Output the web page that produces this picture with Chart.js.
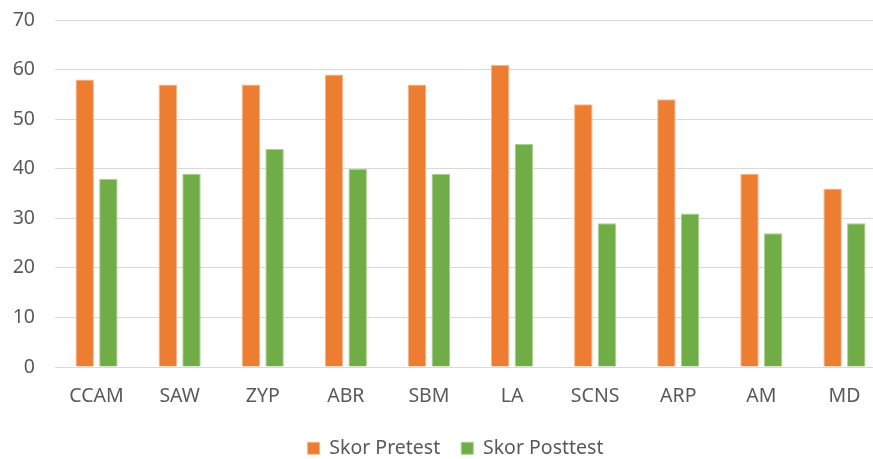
<!DOCTYPE html>
<html>
<head>
<meta charset="utf-8">
<script src="https://cdn.jsdelivr.net/npm/chart.js@4/dist/chart.umd.min.js"></script>
<style>
  html, body { margin: 0; padding: 0; background: #ffffff; overflow: hidden; }
  #wrap { width: 873px; height: 459px; }
</style>
</head>
<body>
<div id="wrap"><canvas id="c" width="873" height="459"></canvas></div>
<script>
const categories = ["CCAM", "SAW", "ZYP", "ABR", "SBM", "LA", "SCNS", "ARP", "AM", "MD"];
const pretest = [58, 57, 57, 59, 57, 61, 53, 54, 39, 36];
const posttest = [38, 39, 44, 40, 39, 45, 29, 31, 27, 29];
const seriesNames = ["Skor Pretest", "Skor Posttest"];
const yTicks = [0, 10, 20, 30, 40, 50, 60, 70];

const textColor = "#595959";
const fontFamily = "'Noto Sans', 'Open Sans', sans-serif";
const plotOverflow = 13;   // plot area runs past the right edge, as in the reference

const layoutTweaks = {
  id: "layoutTweaks",
  afterLayout(chart) {
    const x = chart.scales.x, y = chart.scales.y;
    chart.chartArea.right += plotOverflow;
    chart.chartArea.width += plotOverflow;
    x.right += plotOverflow;
    x.width += plotOverflow;
    x.configure();
    x._labelItems = null; x._gridLineItems = null;
    y._gridLineItems = null;
    const lg = chart.legend;
    if (lg) {
      lg.options.labels.padding = 21;
      lg.top -= 9; lg.bottom -= 9;
      lg.left += 12; lg.right += 12;
    }
  }
};

new Chart(document.getElementById("c"), {
  type: "bar",
  data: {
    labels: categories,
    datasets: [
      { label: seriesNames[0], data: pretest, backgroundColor: "#ed7d31", borderColor: "#f6b58a", borderWidth: 1,
        categoryPercentage: 0.57, barPercentage: 0.78 },
      { label: seriesNames[1], data: posttest, backgroundColor: "#70ad47", borderColor: "#a9d18e", borderWidth: 1,
        categoryPercentage: 0.57, barPercentage: 0.78 }
    ]
  },
  plugins: [layoutTweaks],
  options: {
    responsive: false,
    animation: false,
    layout: { padding: { left: 0, right: 0, top: 20, bottom: -11 } },
    plugins: {
      legend: {
        position: "bottom",
        labels: {
          boxWidth: 12, boxHeight: 12, padding: 14,
          color: textColor, font: { family: fontFamily, size: 19.5 }
        }
      },
      tooltip: { enabled: false }
    },
    scales: {
      x: {
        afterFit: (axis) => { axis.paddingLeft = 0; axis.paddingRight = 0; },
        grid: { display: false, drawTicks: false },
        border: { display: true, color: "#d9d9d9", width: 1 },
        ticks: { color: textColor, font: { family: fontFamily, size: 19.5 }, padding: 18 }
      },
      y: {
        min: 0, max: 70,
        afterBuildTicks: (axis) => { axis.ticks = yTicks.map(v => ({ value: v })); },
        afterFit: (axis) => { axis.width = 55; axis.paddingTop = 0; axis.paddingBottom = 0; },
        grid: { color: "#d9d9d9", lineWidth: 1, drawTicks: false },
        border: { display: false },
        ticks: { color: textColor, font: { family: fontFamily, size: 19.5 }, padding: 20 }
      }
    }
  }
});
</script>
</body>
</html>
